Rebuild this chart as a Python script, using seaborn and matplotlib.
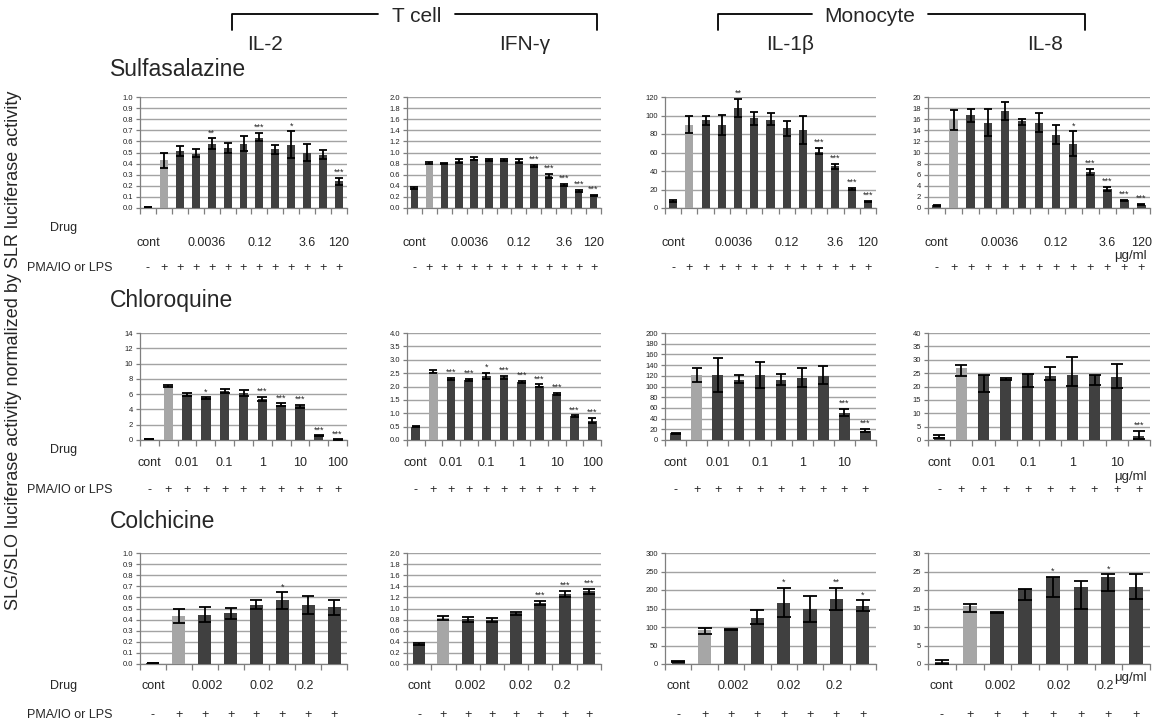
import numpy as np
import pandas as pd
import matplotlib
matplotlib.use("Agg")
import matplotlib.pyplot as plt
import seaborn as sns
from matplotlib.transforms import blended_transform_factory

sns.set_theme(style="white")
plt.rcParams['font.family'] = ['Liberation Sans', 'DejaVu Sans']

# ---------------- data ----------------
# Row 1: Sulfasalazine (13 bars: cont, PMA/LPS only, 11 doses)
sulfa_il2 = [0.005, 0.43, 0.515, 0.49, 0.58, 0.54, 0.58, 0.63, 0.53, 0.57, 0.50, 0.475, 0.24]
sulfa_il2_lo = [0.0, 0.07, 0.043, 0.035, 0.047, 0.045, 0.065, 0.025, 0.04, 0.12, 0.08, 0.035, 0.03]
sulfa_il2_hi = [0.0, 0.07, 0.043, 0.045, 0.047, 0.045, 0.065, 0.045, 0.04, 0.12, 0.08, 0.045, 0.03]
sulfa_il2_sig = ["", "", "", "", "**", "", "", "***", "", "*", "", "", "***"]

sulfa_ifn = [0.36, 0.81, 0.805, 0.85, 0.89, 0.865, 0.865, 0.85, 0.76, 0.58, 0.42, 0.31, 0.22]
sulfa_ifn_lo = [0.01, 0.01, 0.01, 0.035, 0.03, 0.02, 0.02, 0.035, 0.02, 0.04, 0.02, 0.015, 0.01]
sulfa_ifn_hi = [0.01, 0.01, 0.01, 0.035, 0.03, 0.02, 0.02, 0.035, 0.02, 0.04, 0.02, 0.015, 0.01]
sulfa_ifn_sig = ["", "", "", "", "", "", "", "", "***", "***", "***", "***", "***"]

sulfa_il1b = [8, 90, 95, 90, 108, 97, 95, 86, 84, 61, 45, 21, 7]
sulfa_il1b_lo = [1, 9, 5, 11, 10, 7, 5, 8, 15, 3, 3, 1, 1]
sulfa_il1b_hi = [1, 9, 5, 11, 10, 7, 8, 8, 15, 4, 3, 1, 1]
sulfa_il1b_sig = ["", "", "", "", "**", "", "", "", "", "***", "***", "***", "***"]

sulfa_il8 = [0.5, 15.8, 16.7, 15.4, 17.5, 15.6, 15.4, 13.2, 11.6, 6.4, 3.4, 1.4, 0.6]
sulfa_il8_lo = [0.1, 1.8, 1.2, 2.5, 1.6, 0.6, 1.7, 1.7, 2.2, 0.4, 0.4, 0.1, 0.1]
sulfa_il8_hi = [0.1, 1.8, 1.2, 2.5, 1.6, 0.5, 1.7, 1.7, 2.2, 0.6, 0.4, 0.1, 0.1]
sulfa_il8_sig = ["", "", "", "", "", "", "", "", "*", "***", "***", "***", "***"]

# Row 2: Chloroquine
chlor_il2 = [0.1, 7.1, 5.9, 5.47, 6.4, 6.1, 5.4, 4.6, 4.4, 0.56, 0.05]
chlor_il2_lo = [0.0, 0.2, 0.2, 0.1, 0.25, 0.4, 0.25, 0.2, 0.2, 0.05, 0.02]
chlor_il2_hi = [0.0, 0.15, 0.2, 0.1, 0.25, 0.4, 0.2, 0.2, 0.2, 0.05, 0.02]
chlor_il2_sig = ["", "", "", "*", "", "", "***", "***", "***", "***", "***"]

chlor_ifn = [0.5, 2.56, 2.28, 2.24, 2.40, 2.34, 2.17, 2.03, 1.73, 0.89, 0.72]
chlor_ifn_lo = [0.02, 0.05, 0.05, 0.04, 0.11, 0.05, 0.05, 0.05, 0.03, 0.03, 0.1]
chlor_ifn_hi = [0.02, 0.05, 0.05, 0.04, 0.11, 0.05, 0.05, 0.05, 0.03, 0.03, 0.1]
chlor_ifn_sig = ["", "", "***", "***", "*", "***", "***", "***", "***", "***", "***"]

chlor_il1b = [13, 122, 122, 113, 122, 113, 116, 119, 51, 17.5]
chlor_il1b_lo = [1, 13, 32, 6, 24, 11, 17, 15, 6.5, 3]
chlor_il1b_hi = [1, 13, 32, 8, 24, 11, 19, 19, 6.5, 3]
chlor_il1b_sig = ["", "", "", "", "", "", "", "", "***", "***"]

chlor_il8 = [1.2, 26.8, 24.4, 22.7, 24.8, 23.9, 24.4, 24.4, 23.5, 1.5]
chlor_il8_lo = [0.6, 2.7, 6.4, 0.3, 5.0, 1.4, 4.3, 3.9, 4.2, 1.3]
chlor_il8_hi = [0.6, 1.2, 0.0, 0.3, 0.0, 3.3, 6.7, 0.0, 4.8, 1.9]
chlor_il8_sig = ["", "", "", "", "", "", "", "", "", "***"]

# Row 3: Colchicine
colch_il2 = [0.005, 0.43, 0.44, 0.456, 0.535, 0.575, 0.53, 0.51]
colch_il2_lo = [0.0, 0.065, 0.06, 0.05, 0.035, 0.075, 0.08, 0.07]
colch_il2_hi = [0.0, 0.065, 0.07, 0.05, 0.04, 0.07, 0.08, 0.07]
colch_il2_sig = ["", "", "", "", "", "*", "", ""]

colch_ifn = [0.36, 0.83, 0.81, 0.79, 0.915, 1.10, 1.26, 1.31]
colch_ifn_lo = [0.01, 0.035, 0.045, 0.03, 0.03, 0.04, 0.06, 0.05]
colch_ifn_hi = [0.01, 0.035, 0.045, 0.03, 0.03, 0.04, 0.06, 0.05]
colch_ifn_sig = ["", "", "", "", "", "***", "***", "***"]

colch_il1b = [6.5, 91, 93, 125, 165, 150, 176, 157]
colch_il1b_lo = [2, 9, 2, 17, 37, 37, 31, 13]
colch_il1b_hi = [2, 7, 1, 21, 40, 35, 29, 15]
colch_il1b_sig = ["", "", "", "", "*", "", "**", "*"]

colch_il8 = [0.5, 15.7, 13.9, 20.4, 23.6, 20.9, 23.6, 20.9]
colch_il8_lo = [0.4, 1.6, 0.1, 3.2, 5.6, 6.0, 4.0, 3.2]
colch_il8_hi = [0.6, 0.5, 0.1, 0.0, 0.0, 1.6, 0.6, 3.3]
colch_il8_sig = ["", "", "", "", "*", "", "*", ""]

# axis scales (max, step, decimals) per panel
y_scales = [
    [(1.0, 0.1, 1), (2.0, 0.2, 1), (120, 20, 0), (20, 2, 0)],
    [(14, 2, 0), (4.0, 0.5, 1), (200, 20, 0), (40, 5, 0)],
    [(1.0, 0.1, 1), (2.0, 0.2, 1), (300, 50, 0), (30, 5, 0)],
]

drugs = ["Sulfasalazine", "Chloroquine", "Colchicine"]
cytokines = ["IL-2", "IFN-\u03b3", "IL-1\u03b2", "IL-8"]

# dose labels: (bar index, text)
dose_labels = [
    [(0, "cont"), (3.7, "0.0036"), (7, "0.12"), (10, "3.6"), (12, "120")],
    [(0, "cont"), (2, "0.01"), (4, "0.1"), (6, "1"), (8, "10"), (10, "100")],
    [(0, "cont"), (2.1, "0.002"), (4.2, "0.02"), (5.9, "0.2")],
]

panels = [
    [(sulfa_il2, sulfa_il2_lo, sulfa_il2_hi, sulfa_il2_sig),
     (sulfa_ifn, sulfa_ifn_lo, sulfa_ifn_hi, sulfa_ifn_sig),
     (sulfa_il1b, sulfa_il1b_lo, sulfa_il1b_hi, sulfa_il1b_sig),
     (sulfa_il8, sulfa_il8_lo, sulfa_il8_hi, sulfa_il8_sig)],
    [(chlor_il2, chlor_il2_lo, chlor_il2_hi, chlor_il2_sig),
     (chlor_ifn, chlor_ifn_lo, chlor_ifn_hi, chlor_ifn_sig),
     (chlor_il1b, chlor_il1b_lo, chlor_il1b_hi, chlor_il1b_sig),
     (chlor_il8, chlor_il8_lo, chlor_il8_hi, chlor_il8_sig)],
    [(colch_il2, colch_il2_lo, colch_il2_hi, colch_il2_sig),
     (colch_ifn, colch_ifn_lo, colch_ifn_hi, colch_ifn_sig),
     (colch_il1b, colch_il1b_lo, colch_il1b_hi, colch_il1b_sig),
     (colch_il8, colch_il8_lo, colch_il8_hi, colch_il8_sig)],
]

# ---------------- layout ----------------
W, H = 1166, 724
fig = plt.figure(figsize=(W / 100, H / 100), dpi=100)
fig.patch.set_facecolor("white")

col_x = [(140, 347), (407, 601), (665, 876), (928, 1150)]
row_y = [(97, 208), (333, 440), (553, 664)]
dose_y = [243, 463, 686]
drug_y = [228, 450, 686]
pma_y = [268, 490, 715]
ugml_y = [256, 477, 678]
ugml_x = 1130
title_y = [70, 300, 522]

DARK = "#404040"
LIGHT = "#a6a6a6"
GRID = "#a3a3a3"

overlay = fig.add_axes([0, 0, 1, 1])
overlay.set_xlim(0, W)
overlay.set_ylim(H, 0)
overlay.axis("off")


def fy(y):
    return 1 - y / H


for r in range(3):
    for c in range(4):
        vals, lo, hi, sig = panels[r][c]
        n = len(vals)
        x0, x1 = col_x[c]
        y0, y1 = row_y[r]
        ax = fig.add_axes([x0 / W, fy(y1), (x1 - x0) / W, (y1 - y0) / H])
        df = pd.DataFrame({
            "pos": [str(i) for i in range(n)],
            "val": vals,
            "kind": ["base" if i != 1 else "stim" for i in range(n)],
        })
        sns.barplot(data=df, x="pos", y="val", hue="kind",
                    palette={"base": DARK, "stim": LIGHT},
                    order=[str(i) for i in range(n)], dodge=False,
                    width=0.5, saturation=1, legend=False, ax=ax,
                    edgecolor="none", linewidth=0, zorder=3)
        spacing_px = (x1 - x0) / n
        cap = 0.5 * 0.5 * spacing_px * 0.72
        ax.errorbar(np.arange(n), vals, yerr=[lo, hi], fmt="none",
                    ecolor="black", elinewidth=1.3, capsize=cap,
                    capthick=1.3, zorder=4)
        ymax, step, dec = y_scales[r][c]
        ax.set_ylim(0, ymax)
        ax.set_xlim(-0.5, n - 0.5)
        ticks = np.arange(0, ymax + step / 2, step)
        ax.set_yticks(ticks)
        ax.set_yticklabels([f"{t:.{dec}f}" for t in ticks], fontsize=5.5,
                           color="#222222")
        ax.set_xticks(np.arange(-0.5, n, 1.0))
        ax.set_xticklabels([])
        ax.tick_params(axis="x", length=4, width=0.9, color="#7f7f7f",
                       direction="out", bottom=True)
        ax.tick_params(axis="y", length=3, width=0.9, color="#7f7f7f",
                       direction="out", left=True, pad=2)
        ax.yaxis.grid(True, color=GRID, lw=1.0, zorder=0)
        ax.xaxis.grid(False)
        ax.set_axisbelow(True)
        for s in ["top", "right"]:
            ax.spines[s].set_visible(False)
        for s in ["left", "bottom"]:
            ax.spines[s].set_color("#7f7f7f")
            ax.spines[s].set_linewidth(0.9)
        ax.set_xlabel("")
        ax.set_ylabel("")
        for i in range(n):
            if sig[i]:
                ax.text(i, vals[i] + hi[i] + ymax * 0.01, sig[i],
                        ha="center", va="bottom", fontsize=6.5, zorder=5)
        # dose labels and +/- row below the panel
        tr = blended_transform_factory(ax.transData, fig.transFigure)
        for idx, lab in dose_labels[r]:
            if idx < n:
                fig.text(idx, fy(dose_y[r]), lab, transform=tr,
                         ha="center", va="center", fontsize=9)
        for i in range(n):
            fig.text(i, fy(pma_y[r]), "-" if i == 0 else "+", transform=tr,
                     ha="center", va="center", fontsize=9)
        if c == 3:
            fig.text(ugml_x / W, fy(ugml_y[r]), "\u03bcg/ml", ha="center",
                     va="center", fontsize=9.5)
    overlay.text(110, title_y[r], drugs[r], ha="left", va="center",
                 fontsize=16.5)
    overlay.text(50, drug_y[r], "Drug", ha="left", va="center", fontsize=9)
    overlay.text(27, pma_y[r], "PMA/IO or LPS", ha="left", va="center",
                 fontsize=9)

# column headers
head_x = [265, 525, 790, 1045]
for hx, name in zip(head_x, cytokines):
    overlay.text(hx, 45, name, ha="center", va="center", fontsize=15)

# group brackets
for (xa, xb, label, gap0, gap1) in [(232, 597, "T cell", 378, 455),
                                    (718, 1085, "Monocyte", 812, 928)]:
    overlay.plot([xa, xa, gap0], [30, 14, 14], color="black", lw=1.3)
    overlay.plot([gap1, xb, xb], [14, 14, 30], color="black", lw=1.3)
    overlay.text((gap0 + gap1) / 2, 17, label, ha="center", va="center",
                 fontsize=15)

overlay.text(14, 350,
             "SLG/SLO luciferase activity normalized by SLR luciferase activity",
             rotation=90, ha="center", va="center", fontsize=13)

fig.savefig("out.png", dpi=100)
